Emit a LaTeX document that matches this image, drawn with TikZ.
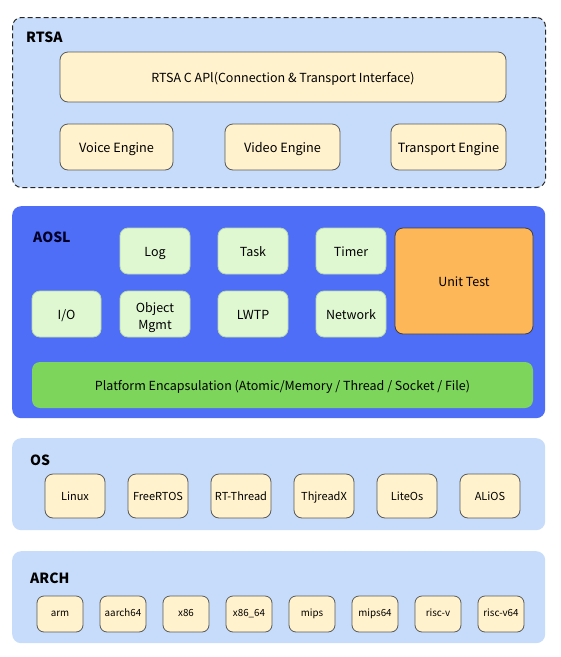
\documentclass[tikz,border=0pt]{standalone}
\usepackage{fontspec}
\setmainfont{Noto Sans CJK SC}
\begin{document}
\begin{tikzpicture}[x=1pt,y=-1pt,
  layer/.style={draw=none,rounded corners=9pt,fill=lblue},
  box/.style={draw=bgray,line width=0.8pt,rounded corners=8pt,fill=lyellow,inner sep=0pt,align=center,font=\fontsize{12.5}{14.5}\selectfont,text height=1.1em,text depth=0pt},
  gbox/.style={box,draw=gborder,fill=lgreen},
  osbox/.style={box,minimum width=60pt,minimum height=44pt,font=\fontsize{11}{13}\selectfont,text height=0.87em},
  archbox/.style={box,rounded corners=7pt,minimum width=46pt,minimum height=36pt,font=\fontsize{9.8}{11}\selectfont,text height=0.55em},
  ttl/.style={anchor=west,font=\bfseries\fontsize{14}{16}\selectfont,inner sep=0pt}]
\definecolor{lblue}{HTML}{C6DCFA}
\definecolor{lyellow}{HTML}{FFF2CC}
\definecolor{bgray}{HTML}{5A5A5A}
\definecolor{lgreen}{HTML}{E0F8D2}
\definecolor{gborder}{HTML}{B8D8A8}
\definecolor{aoslblue}{HTML}{4F6EF7}
\definecolor{orangeut}{HTML}{FDB658}
\definecolor{pgreen}{HTML}{7DD65B}
\useasboundingbox (0,0) rectangle (561,657);
\fill[white] (0,0) rectangle (561,657);
% RTSA
\node[layer,draw=black!85,dash pattern=on 5pt off 3pt,line width=1pt,minimum width=533pt,minimum height=170pt,anchor=north west] (rtsa) at (12,17) {};
\node[ttl] (rtsal) at (26,37.5) {RTSA};
\node[box,minimum width=446pt,minimum height=50pt] (api) at (283,77) {RTSA C APl(Connection \& Transport Interface)};
\node[box,minimum width=113pt,minimum height=46pt,font=\fontsize{12.7}{14.5}\selectfont] (voice) at (116.5,147) {Voice Engine};
\node[box,minimum width=115pt,minimum height=46pt,font=\fontsize{12.7}{14.5}\selectfont] (video) at (282.5,147) {Video Engine};
\node[box,minimum width=115pt,minimum height=46pt,font=\fontsize{12.7}{14.5}\selectfont] (transport) at (448.5,147) {Transport Engine};
% AOSL
\node[layer,fill=aoslblue,minimum width=533pt,minimum height=212pt,anchor=north west] (aosl) at (12,206) {};
\node[ttl,text=black!85!blue] (aosll) at (33,237) {AOSL};
\node[gbox,minimum width=70pt,minimum height=46pt] (log) at (155,251) {Log};
\node[gbox,minimum width=70pt,minimum height=46pt] (task) at (253,251) {Task};
\node[gbox,minimum width=70pt,minimum height=46pt] (timer) at (351,251) {Timer};
\node[box,fill=orangeut,draw=black!75,minimum width=138pt,minimum height=106pt] (unit) at (464,281) {Unit Test};
\node[gbox,minimum width=69pt,minimum height=46pt] (io) at (66.5,314) {I/O};
\node[gbox,minimum width=70pt,minimum height=46pt,font=\fontsize{12.5}{17}\selectfont,text height=30pt] (obj) at (155,314) {Object\\Mgmt};
\node[gbox,minimum width=70pt,minimum height=46pt] (lwtp) at (253,314) {LWTP};
\node[gbox,minimum width=70pt,minimum height=46pt] (net) at (351,314) {Network};
\node[box,draw=none,fill=pgreen,minimum width=501pt,minimum height=46pt] (plat) at (282.5,385) {Platform Encapsulation (Atomic/Memory / Thread / Socket / File)};
% OS
\node[layer,minimum width=533pt,minimum height=92pt,anchor=north west] (os) at (12,438) {};
\node[ttl] (osl) at (30,460) {OS};
\foreach \n/\t [count=\i from 0] in {linux/Linux,free/FreeRTOS,rtt/RT-Thread,thx/ThjreadX,lite/LiteOs,ali/ALiOS}
  \node[osbox] (\n) at (75+\i*83,496) {\t};
% ARCH
\node[layer,minimum width=533pt,minimum height=92pt,anchor=north west] (arch) at (12,551) {};
\node[ttl] (archl) at (30,578) {ARCH};
\foreach \n/\t [count=\i from 0] in {arm/arm,a64/aarch64,x86/x86,x8664/x86\_64,mips/mips,mips64/mips64,riscv/risc-v,riscv64/risc-v64}
  \node[archbox] (\n) at (60+\i*63,614) {\t};
\end{tikzpicture}
\end{document}
